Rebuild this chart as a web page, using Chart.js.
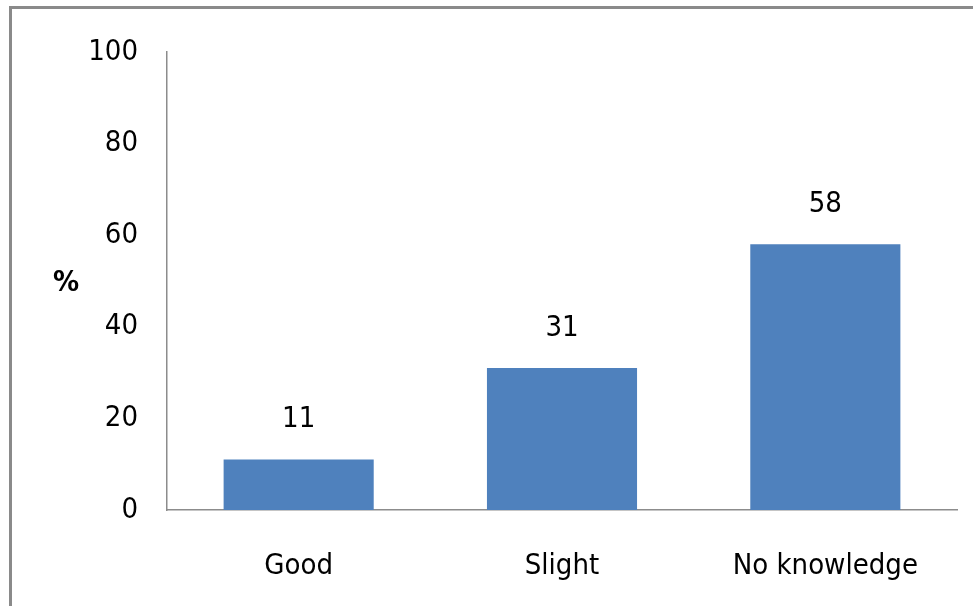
<!DOCTYPE html>
<html>
<head>
<meta charset="utf-8">
<title>Knowledge level</title>
<script src="https://cdn.jsdelivr.net/npm/chart.js@4"></script>
<style>
    body { margin: 0; background: #fff; }
    .chart-wrap { position: relative; width: 973px; height: 606px; overflow: hidden; }
    .frame {
        position: absolute; left: 9px; top: 6px; width: 2000px; height: 2000px;
        border-left: 3px solid #8a8a8a; border-top: 3px solid #8a8a8a;
        pointer-events: none;
    }
</style>
</head>
<body>
<div class="chart-wrap">
    <canvas id="knowledgeChart" width="973" height="606"></canvas>
    <div class="frame"></div>
</div>
<script>
const categories = ['Good', 'Slight', 'No knowledge']
const percentValues = [11, 31, 58]
const yTicks = [0, 20, 40, 60, 80, 100]

const fontFamily = "'Liberation Sans Narrow', 'DejaVu Sans Condensed', 'Arial Narrow', sans-serif"
const fontSize = 29

// value above each bar
const barValueLabels = {
    id: 'barValueLabels',
    afterDatasetsDraw(chart) {
        const ctx = chart.ctx
        const meta = chart.getDatasetMeta(0)
        ctx.save()
        ctx.font = fontSize + 'px ' + fontFamily
        ctx.fillStyle = '#000'
        ctx.textAlign = 'center'
        ctx.textBaseline = 'middle'
        meta.data.forEach((bar, i) => {
            ctx.fillText(String(percentValues[i]), bar.x, bar.y - 40)
        })
        ctx.restore()
    }
}

// upright "%" axis title
const yAxisTitle = {
    id: 'yAxisTitle',
    afterDraw(chart) {
        const ctx = chart.ctx
        const area = chart.chartArea
        ctx.save()
        ctx.font = 'bold 29px ' + fontFamily
        ctx.fillStyle = '#000'
        ctx.textAlign = 'center'
        ctx.textBaseline = 'middle'
        ctx.fillText('%', 66, (area.top + area.bottom) / 2 + 2)
        ctx.restore()
    }
}

const chartCanvas = document.getElementById('knowledgeChart')
const knowledgeChart = new Chart(chartCanvas, {
    type: 'bar',
    data: {
        labels: categories,
        datasets: [{
            data: percentValues,
            backgroundColor: '#4F81BD',
            borderWidth: 0,
            barPercentage: 0.57,
            categoryPercentage: 1
        }]
    },
    options: {
        responsive: false,
        animation: false,
        layout: { padding: { left: 0, right: 16, top: 52, bottom: 0 } },
        plugins: {
            legend: { display: false },
            tooltip: { enabled: false }
        },
        scales: {
            x: {
                grid: { display: false, drawTicks: false },
                border: { display: true, color: '#8c8c8c', width: 1.5 },
                ticks: {
                    color: '#000',
                    padding: 39,
                    font: { family: fontFamily, size: fontSize }
                },
                afterFit(scale) { scale.height = 96 }
            },
            y: {
                min: 0,
                max: 100,
                afterBuildTicks(scale) { scale.ticks = yTicks.map(v => ({ value: v })) },
                grid: { display: false, drawTicks: false },
                border: { display: true, color: '#8c8c8c', width: 1.5 },
                ticks: {
                    color: '#000',
                    padding: 29,
                    font: { family: fontFamily, size: fontSize }
                },
                afterFit(scale) { scale.width = 167 }
            }
        }
    },
    plugins: [barValueLabels, yAxisTitle]
})
</script>
</body>
</html>
